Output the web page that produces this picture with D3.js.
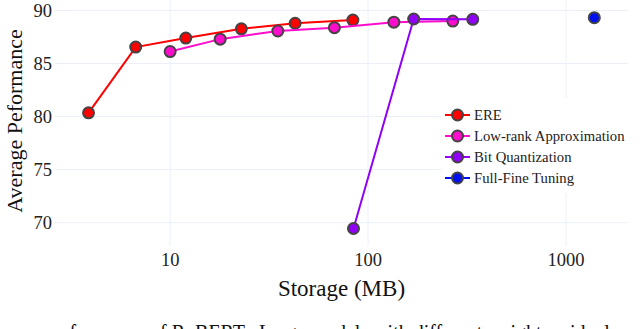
<!DOCTYPE html>
<html>
<head>
<meta charset="utf-8">
<script src="https://cdn.jsdelivr.net/npm/d3@7"></script>
<style>
  html, body { margin: 0; padding: 0; background: #fff; }
  svg { display: block; }
</style>
</head>
<body>
<svg id="chart" width="640" height="329"></svg>
<script>
// storage in MB, score = average performance
const ereStorage = [3.87, 6.7, 12.0, 22.9, 42.8, 83.8];
const ereScore = [80.35, 86.55, 87.4, 88.27, 88.8, 89.1];

const lowRankStorage = [10.0, 17.9, 35.0, 67.6, 135, 268];
const lowRankScore = [86.13, 87.3, 88.07, 88.38, 88.9, 89.0];

const bitStorage = [84.4, 170, 338];
const bitScore = [69.45, 89.2, 89.17];

const fullStorage = [1390];
const fullScore = [89.32];

const yTicks = [70, 75, 80, 85, 90];
const xTicks = [10, 100, 1000];

const seriesNames = ['ERE', 'Low-rank Approximation', 'Bit Quantization', 'Full-Fine Tuning'];
const seriesColors = ['#ff0000', '#ff0ccc', '#9000f4', '#0010ee'];

const series = [
    { name: seriesNames[0], color: seriesColors[0], xs: ereStorage, ys: ereScore },
    { name: seriesNames[1], color: seriesColors[1], xs: lowRankStorage, ys: lowRankScore },
    { name: seriesNames[2], color: seriesColors[2], xs: bitStorage, ys: bitScore },
    { name: seriesNames[3], color: seriesColors[3], xs: fullStorage, ys: fullScore }
];

const svg = d3.select('#chart');
const plotLeft = 55, plotRight = 628, plotTop = 0, plotBottom = 246;
const serif = '"Liberation Serif"';

const x = d3.scaleLog().domain([2.62, 2057]).range([plotLeft, plotRight]);
const y = d3.scaleLinear().domain([67.8, 90.99]).range([plotBottom, plotTop]);

const gridColor = '#ebf0f8';

// grid
svg.append('g')
    .selectAll('line')
    .data(yTicks)
    .enter().append('line')
    .attr('x1', plotLeft).attr('x2', plotRight)
    .attr('y1', d => y(d)).attr('y2', d => y(d))
    .attr('stroke', gridColor).attr('stroke-width', 1);

svg.append('g')
    .selectAll('line')
    .data(xTicks)
    .enter().append('line')
    .attr('x1', d => x(d)).attr('x2', d => x(d))
    .attr('y1', plotTop).attr('y2', plotBottom)
    .attr('stroke', gridColor).attr('stroke-width', 1);

// tick labels
svg.append('g')
    .selectAll('text')
    .data(yTicks)
    .enter().append('text')
    .attr('x', 52)
    .attr('y', d => y(d) + 6)
    .attr('text-anchor', 'end')
    .style('font-family', serif)
    .attr('font-size', '18.5px')
    .attr('fill', '#222')
    .text(d => d);

svg.append('g')
    .selectAll('text')
    .data(xTicks)
    .enter().append('text')
    .attr('x', d => x(d))
    .attr('y', 266)
    .attr('text-anchor', 'middle')
    .style('font-family', serif)
    .attr('font-size', '18.5px')
    .attr('fill', '#222')
    .text(d => d);

// axis titles
svg.append('text')
    .attr('x', 341.5).attr('y', 296)
    .attr('text-anchor', 'middle')
    .style('font-family', serif)
    .attr('font-size', '23px')
    .attr('fill', '#111')
    .text('Storage (MB)');

svg.append('text')
    .attr('transform', 'translate(22,121) rotate(-90)')
    .attr('text-anchor', 'middle')
    .style('font-family', serif)
    .attr('font-size', '22px')
    .attr('fill', '#111')
    .text('Average Peformance');

// lines + markers
const line = d3.line().x(d => x(d[0])).y(d => y(d[1]));

series.forEach(s => {
    const pts = s.xs.map((v, i) => [v, s.ys[i]]);
    const g = svg.append('g');
    g.append('path')
        .attr('d', line(pts))
        .attr('fill', 'none')
        .attr('stroke', s.color)
        .attr('stroke-width', 2);
    g.selectAll('circle')
        .data(pts)
        .enter().append('circle')
        .attr('cx', d => x(d[0]))
        .attr('cy', d => y(d[1]))
        .attr('r', 5.5)
        .attr('fill', s.color)
        .attr('stroke', '#444')
        .attr('stroke-width', 2);
});

// legend
const legend = svg.append('g');
legend.append('rect')
    .attr('x', 442).attr('y', 98)
    .attr('width', 186).attr('height', 95)
    .attr('fill', '#fff');

const item = legend.selectAll('g.item')
    .data(series)
    .enter().append('g')
    .attr('class', 'item')
    .attr('transform', (d, i) => `translate(0,${115 + i * 21})`);

item.append('line')
    .attr('x1', 445).attr('x2', 470)
    .attr('y1', 0).attr('y2', 0)
    .attr('stroke', d => d.color)
    .attr('stroke-width', 2);
item.append('circle')
    .attr('cx', 457.5).attr('cy', 0)
    .attr('r', 5.5)
    .attr('fill', d => d.color)
    .attr('stroke', '#444')
    .attr('stroke-width', 2);
item.append('text')
    .attr('x', 474).attr('y', 5)
    .style('font-family', serif)
    .attr('font-size', '14.7px')
    .attr('fill', '#222')
    .text(d => d.name);

// caption cut off at the bottom
svg.append('text')
    .attr('x', 44).attr('y', 339)
    .style('font-family', serif)
    .attr('font-size', '20px')
    .attr('fill', '#111')
    .text('performance of RoBERTa-Large models with different weight residual');
</script>
</body>
</html>
